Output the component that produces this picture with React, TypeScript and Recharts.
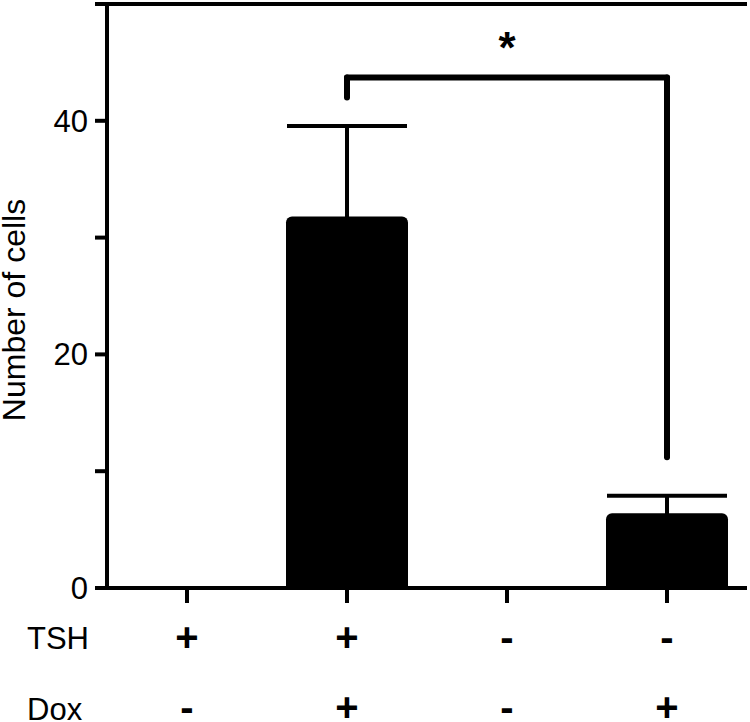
import React from 'react';
import { BarChart, Bar, XAxis, YAxis, ErrorBar, ReferenceLine } from 'recharts';

const categories = ['A', 'B', 'C', 'D'];
const counts = [0, 31.8, 0, 6.4];
const errors: (number | null)[] = [null, 7.75, null, 1.5];
const tshSigns = ['+', '+', '-', '-'];
const doxSigns = ['-', '+', '-', '+'];
const rowLabels = ['TSH', 'Dox'];
const yTicks = [0, 10, 20, 30, 40, 50];
const yTickLabels: Record<number, string> = { 0: '0', 20: '20', 40: '40' };
const bracketFrom = 'B';
const bracketTo = 'D';
const bracketTop = 43.7;
const bracketLeftEnd = 42;
const bracketRightEnd = 11.2;
const sigLabel = '*';

const data = categories.map((c, i) => ({ cat: c, count: counts[i], err: errors[i] }));

const FONT = '"Liberation Sans", Arial, Helvetica, sans-serif';

function SignTick(props: any) {
  const { x, payload, index } = props;
  const i = categories.indexOf(payload.value);
  return (
    <g>
      {index === 0 && (
        <>
          <text x={27} y={649} fontFamily={FONT} fontSize={31} fill="#000">{rowLabels[0]}</text>
          <text x={27} y={720} fontFamily={FONT} fontSize={31} fill="#000">{rowLabels[1]}</text>
        </>
      )}
      <text x={x} y={651} textAnchor="middle" fontFamily={FONT} fontSize={40} fontWeight="bold" fill="#000">{tshSigns[i]}</text>
      <text x={x} y={721} textAnchor="middle" fontFamily={FONT} fontSize={40} fontWeight="bold" fill="#000">{doxSigns[i]}</text>
    </g>
  );
}

function YLabel() {
  return (
    <text x={25} y={310} transform="rotate(-90, 25, 310)" textAnchor="middle" fontFamily={FONT} fontSize={32} fill="#000">
      Number of cells
    </text>
  );
}

export default function App() {
  const line = { stroke: '#000', strokeWidth: 4 };
  return (
    <div style={{ position: 'absolute', left: 0, top: 0, width: 750, height: 722, background: '#fff' }}>
      <BarChart width={750} height={722} data={data} margin={{ top: 4, right: 3, bottom: 4, left: 0 }}>
        <XAxis
          dataKey="cat"
          tick={<SignTick />}
          tickSize={15}
          tickLine={line}
          axisLine={line}
          interval={0}
          height={130}
        />
        <YAxis
          domain={[0, 50]}
          ticks={yTicks}
          interval={0}
          tickFormatter={(v: number) => yTickLabels[v] ?? ''}
          tickSize={12}
          tickMargin={7}
          tickLine={line}
          axisLine={line}
          width={107}
          tick={{ fill: '#000', fontSize: 31, fontFamily: FONT }}
          label={<YLabel />}
        />
        <YAxis yAxisId="frame" orientation="right" domain={[0, 50]} width={0} tick={false} tickLine={false} axisLine={line} />
        <ReferenceLine y={50} stroke="#000" strokeWidth={4} />
        <Bar dataKey="count" fill="#000" barSize={122} radius={[6, 6, 0, 0]} isAnimationActive={false}>
          <ErrorBar dataKey="err" width={60} strokeWidth={4} stroke="#000" direction="y" />
        </Bar>
        <ReferenceLine
          segment={[{ x: bracketFrom, y: bracketTop }, { x: bracketTo, y: bracketTop }]}
          stroke="#000"
          strokeWidth={6}
          strokeLinecap="round"
          label={{ value: sigLabel, position: 'top', offset: 15, fontSize: 44, fontWeight: 'bold', fill: '#000', fontFamily: FONT }}
        />
        <ReferenceLine
          segment={[{ x: bracketFrom, y: bracketTop }, { x: bracketFrom, y: bracketLeftEnd }]}
          stroke="#000"
          strokeWidth={6}
          strokeLinecap="round"
        />
        <ReferenceLine
          segment={[{ x: bracketTo, y: bracketTop }, { x: bracketTo, y: bracketRightEnd }]}
          stroke="#000"
          strokeWidth={6}
          strokeLinecap="round"
        />
      </BarChart>
    </div>
  );
}
